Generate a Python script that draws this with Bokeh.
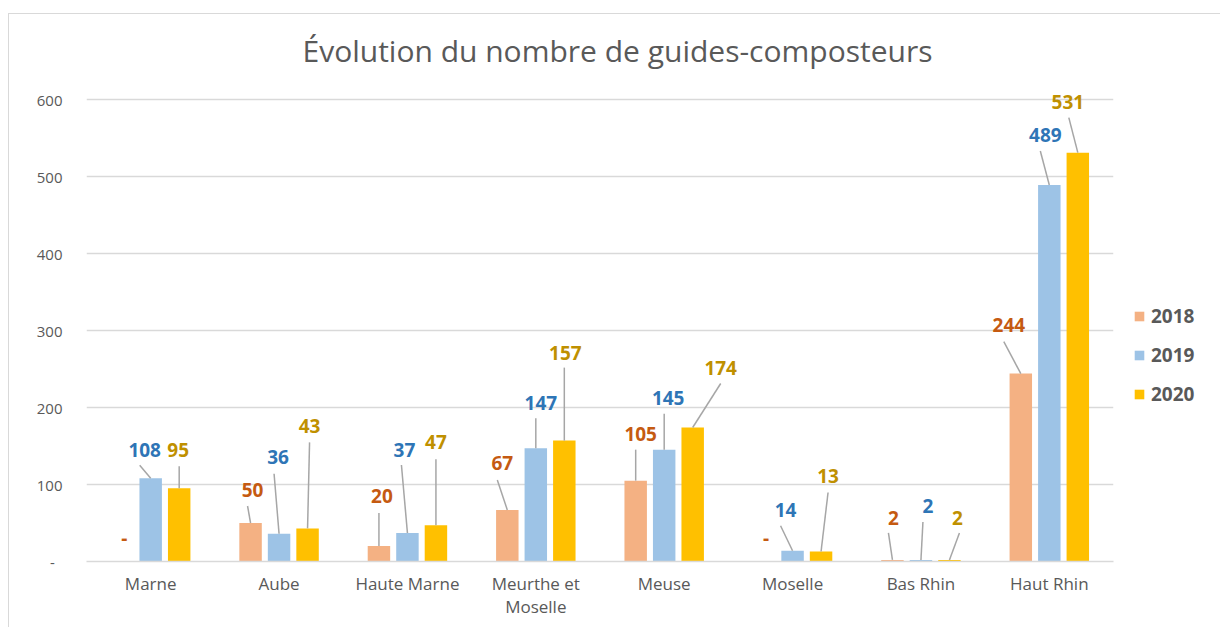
from bokeh.plotting import figure
from bokeh.models import (ColumnDataSource, FactorRange, Range1d, Legend, LegendItem,
                          FixedTicker, CategoricalAxis, CustomJSTickFormatter)
from bokeh.transform import dodge
from bokeh.core.properties import value
from bokeh.embed import file_html
from bokeh.resources import INLINE

# ---------------- data ----------------
categories = ["Marne", "Aube", "Haute Marne", "Meurthe et Moselle",
              "Meuse", "Moselle", "Bas Rhin", "Haut Rhin"]
years = ["2018", "2019", "2020"]
v2018 = [0, 50, 20, 67, 105, 0, 2, 244]
v2019 = [108, 36, 37, 147, 145, 14, 2, 489]
v2020 = [95, 43, 47, 157, 174, 13, 2, 531]
y_ticks = [0, 100, 200, 300, 400, 500, 600]
title_text = "Évolution du nombre de guides-composteurs"
# category label wrapped over two lines as in the original
wrap_keys = ["Meurthe et Moselle"]
wrap_line1 = ["Meurthe et"]
wrap_line2 = ["Moselle"]

# ---------------- styles ----------------
bar_colors = ["#F4B183", "#9DC3E6", "#FFC000"]
label_colors = ["#C55A11", "#2E75B6", "#BF9000"]
dodges = [-0.222, 0.0, 0.222]
bar_width = 0.175
# label offsets in screen px from bar top centre (dx, dy)
label_off = [
    [(2, -24), (2, -33), (3, -50), (-5, -47), (5, -47), (2, -24), (1, -42), (-12, -49)],
    [(-6, -28), (-1, -77), (-3, -83), (5, -45), (4, -52), (-7, -41), (7, -54), (-4, -50)],
    [(-1, -38), (2, -102), (0, -83), (1, -88), (28, -60), (7, -75), (8, -42), (-10, -51)],
]
# leader line end offsets in screen px from bar top centre
leader_off = [
    [None, (-3, -17), (0, -33), (-10, -30), (0, -31), None, (-4, -27), (-17, -32)],
    [(-11, -13), (-5, -60), (-6, -68), (0, -30), (0, -36), (-12, -25), (2, -38), (-9, -34)],
    [(0, -22), (2, -86), (0, -66), (0, -73), (28, -44), (7, -59), (10, -27), (-9, -35)],
]

FRAME_W, GRID_H, EXTRA_TOP = 1027, 462, 16
LEFT, RIGHT, BOTTOM = 77, 98, 66
TOP = 85 - EXTRA_TOP
px_per_x = FRAME_W / len(categories)
px_per_y = GRID_H / (y_ticks[-1] - y_ticks[0])
y_end = y_ticks[-1] + EXTRA_TOP / px_per_y

FONT = "Open Sans"
GREY = "#595959"

p = figure(frame_width=FRAME_W, frame_height=GRID_H + EXTRA_TOP,
           x_range=FactorRange(*categories, range_padding=0, factor_padding=0),
           y_range=Range1d(y_ticks[0], y_end),
           output_backend="svg", toolbar_location=None,
           min_border_left=LEFT, min_border_right=RIGHT,
           min_border_top=TOP, min_border_bottom=BOTTOM)
p.styles = {"margin-top": "13px", "margin-left": "8px",
            "border-top": "1px solid #D9D9D9",
            "border-left": "1px solid #D9D9D9",
            "border-right": "1px solid #D9D9D9"}

p.title.text = title_text
p.title.text_font = FONT
p.title.text_font_size = "30px"
p.title.text_font_style = "normal"
p.title.text_color = GREY
p.title.align = "left"
p.title.offset = 216
p.title.standoff = 25

p.outline_line_color = None
p.background_fill_color = "white"
p.border_fill_color = "white"

p.xgrid.grid_line_color = None
p.ygrid.grid_line_color = "#D9D9D9"
p.ygrid.grid_line_width = 1.5

p.yaxis.ticker = FixedTicker(ticks=y_ticks)
p.yaxis.major_label_overrides = {0: "-\u00a0\u00a0"}
p.yaxis.axis_line_color = None
p.yaxis.major_tick_line_color = None
p.yaxis.minor_tick_line_color = None
p.yaxis.major_tick_out = 0
p.yaxis.major_label_standoff = 24
p.yaxis.major_label_text_font = FONT
p.yaxis.major_label_text_font_size = "15px"
p.yaxis.major_label_text_color = GREY

xa = p.xaxis[0]
xa.axis_line_color = "#D9D9D9"
xa.axis_line_width = 1.5
xa.major_tick_line_color = None
xa.minor_tick_line_color = None
xa.major_tick_out = 0
xa.major_label_standoff = 10
xa.major_label_text_font = FONT
xa.major_label_text_font_size = "17px"
xa.major_label_text_color = GREY
xa.formatter = CustomJSTickFormatter(
    args=dict(keys=wrap_keys, vals=wrap_line1),
    code="const i = keys.indexOf(tick); return i >= 0 ? vals[i] : tick;")

xa2 = CategoricalAxis(axis_line_color=None, major_tick_line_color=None,
                      minor_tick_line_color=None, major_tick_out=0,
                      major_label_standoff=-3, major_label_text_font=FONT,
                      major_label_text_font_size="17px", major_label_text_color=GREY)
xa2.formatter = CustomJSTickFormatter(
    args=dict(keys=wrap_keys, vals=wrap_line2),
    code="const i = keys.indexOf(tick); return i >= 0 ? vals[i] : '';")
p.add_layout(xa2, "below")

series = [v2018, v2019, v2020]
items = []
for k, vals in enumerate(series):
    src = ColumnDataSource(dict(
        cat=categories, val=vals,
        txt=[("-" if v == 0 else str(v)) for v in vals],
        dx=[o[0] for o in label_off[k]],
        dy=[o[1] for o in label_off[k]],
    ))
    r = p.vbar(x=dodge("cat", dodges[k], range=p.x_range), top="val", width=bar_width,
               source=src, fill_color=bar_colors[k], line_color=None)
    items.append(LegendItem(label=years[k], renderers=[r]))

    # leader lines
    x0, y0, x1, y1 = [], [], [], []
    for i, v in enumerate(vals):
        lo = leader_off[k][i]
        if lo is None:
            continue
        xc = i + 0.5 + dodges[k]
        x0.append(xc)
        y0.append(v)
        x1.append(xc + lo[0] / px_per_x)
        y1.append(v - lo[1] / px_per_y)
    p.segment(x0=x0, y0=y0, x1=x1, y1=y1, line_color="#A6A6A6", line_width=1.5)

    p.text(x=dodge("cat", dodges[k], range=p.x_range), y="val", text="txt",
           x_offset="dx", y_offset="dy", source=src,
           text_align="center", text_baseline="middle",
           text_font=value(FONT), text_font_style="bold", text_font_size="19px",
           text_color=label_colors[k])

legend = Legend(items=items, location="center_left", orientation="vertical",
                title="\u00a0", title_text_font_size="45px", title_standoff=14,
                glyph_width=12, glyph_height=12, label_height=20, spacing=13,
                label_standoff=6, padding=0, margin=20,
                border_line_color=None, background_fill_alpha=0,
                label_text_font=FONT, label_text_font_style="bold",
                label_text_font_size="19px", label_text_color=GREY)
p.add_layout(legend, "right")

open("out.html", "w").write(file_html(p, INLINE))
